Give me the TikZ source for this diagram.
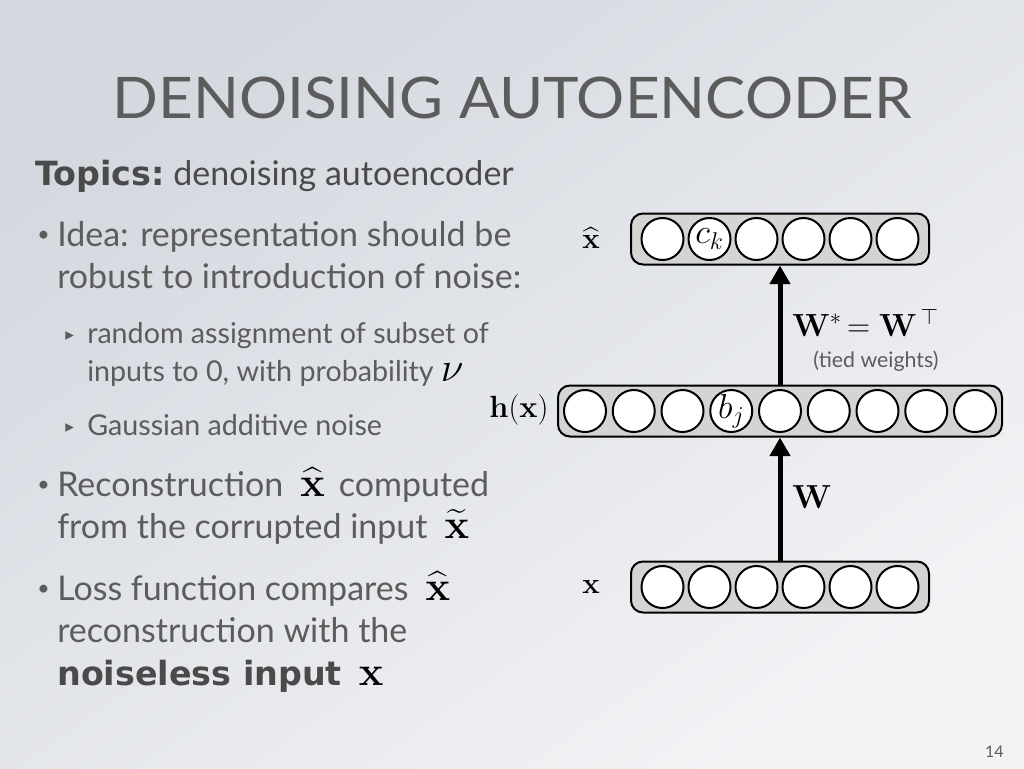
\documentclass[tikz,border=0pt]{standalone}
\usepackage{fix-cm}
\usepackage{amsmath}
\usepackage[no-math]{fontspec}
\setmainfont{Lato}
\newfontfamily\symfont{DejaVu Sans}
\newfontfamily\heavyfont{DejaVu Sans}[BoldFont={DejaVu Sans Bold}]
\usetikzlibrary{arrows.meta}

\definecolor{slidetext}{RGB}{92,92,92}
\definecolor{boldtext}{RGB}{74,74,74}
\definecolor{layergray}{RGB}{212,212,212}
\definecolor{bgdark}{RGB}{212,216,223}
\definecolor{bglight}{RGB}{242,243,245}

\newcommand\bigmath[1]{\hspace{0.25em}{\color{black}\fontsize{31}{31}\selectfont$#1$}\hspace{0.15em}}
\newcommand\heavy[1]{{\heavyfont\bfseries\fontsize{25}{29}\selectfont #1}}

\begin{document}
\begin{tikzpicture}[x=0.75pt,y=-0.75pt,
  layer/.style={draw=black, line width=1.5pt, fill=layergray, rounded corners=9pt,
                inner sep=0pt, minimum height=51*0.75pt},
  unit/.style={circle, draw=black, line width=1.5pt, fill=white, inner sep=0pt,
               minimum size=42*0.75pt},
  flow/.style={line width=3.75pt, -{Triangle[length=14pt,width=15pt]}},
  title/.style={inner sep=0pt, text=slidetext, font=\fontsize{43}{43}\selectfont},
  body/.style={anchor=base west, inner sep=0pt, text=slidetext,
               font=\fontsize{25.5}{30}\selectfont},
  sub/.style={anchor=base west, inner sep=0pt, text=slidetext,
              font=\fontsize{21.5}{26}\selectfont},
  bulletmark/.style={anchor=base west, inner sep=0pt, text=slidetext,
                     font=\fontsize{16}{18}\selectfont},
  submark/.style={anchor=base west, inner sep=0pt, text=slidetext,
                  font=\symfont\fontsize{13}{16}\selectfont},
  mathlabel/.style={inner sep=0pt, font=\fontsize{22}{26}\selectfont},
  unitlabel/.style={inner sep=0pt, font=\fontsize{26}{30}\selectfont},
]
% slide background
\shade[top color=bgdark, bottom color=bglight, shading angle=35]
  (0,0) rectangle (1024,768);
\useasboundingbox (0,0) rectangle (1024,768);

% heading
\node[title, anchor=base, xscale=1.05] (heading) at (512,118) {DENOISING AUTOENCODER};

% text column
\node[body, text=boldtext] (topics) at (35,185)
  {\heavy{Topics:}\ denoising autoencoder};

\node[bulletmark] (b1) at (37,241) {•};
\node[body] (l1) at (57,246) {Idea: representation should be};
\node[body] (l2) at (57,288) {robust to introduction of noise:};

\node[submark] (s1) at (65,340) {▸};
\node[sub] (l3) at (87,343) {random assignment of subset of};
\node[sub] (l4) at (87,381) {inputs to 0, with probability\bigmath{\nu}};
\node[submark] (s2) at (65,432) {▸};
\node[sub] (l5) at (87,435) {Gaussian additive noise};

\node[bulletmark] (b2) at (37,491) {•};
\node[body] (l6) at (57,496)
  {Reconstruction \bigmath{\widehat{\mathbf{x}}} computed};
\node[body] (l7) at (57,538)
  {from the corrupted input \bigmath{\widetilde{\mathbf{x}}}};

\node[bulletmark] (b3) at (37,595) {•};
\node[body] (l8) at (57,600)
  {Loss function compares \bigmath{\widehat{\mathbf{x}}}};
\node[body] (l9) at (57,642) {reconstruction with the};
\node[body, text=boldtext] (l10) at (57,685)
  {\heavy{noiseless input} \bigmath{\mathbf{x}}};

% network layers
\node[layer, minimum width=298*0.75pt] (recon) at (780,239) {};
\node[layer, minimum width=444*0.75pt] (hidden) at (780,411) {};
\node[layer, minimum width=298*0.75pt] (input) at (780,587) {};

\foreach \i in {1,...,6} {
  \node[unit] (r\i) at ({780+(\i-3.5)*47},239) {};
  \node[unit] (x\i) at ({780+(\i-3.5)*47},587) {};
}
\foreach \i in {1,...,9} {
  \node[unit] (h\i) at ({780+(\i-5)*48.75},411) {};
}
\node[unitlabel] (ck) at (r2) {$c_k$};
\node[unitlabel] (bj) at (h4) {$b_j$};

% layer labels
\node[mathlabel] (lxhat) at (591,238) {$\widehat{\mathbf{x}}$};
\node[mathlabel, font=\fontsize{23}{26}\selectfont] (lh) at (519,410)
  {$\mathbf{h}(\mathbf{x})$};
\node[mathlabel] (lx) at (591,587) {$\mathbf{x}$};

% weights
\draw[flow] (input.north) -- (hidden.south);
\draw[flow] (hidden.north) -- (recon.south);
\node[inner sep=0pt, font=\fontsize{25}{28}\selectfont] (w) at (812,497) {$\mathbf{W}$};
\node[inner sep=0pt, anchor=west, font=\fontsize{24}{28}\selectfont] (wt) at (792,323)
  {$\mathbf{W}^{*}\,{=}\;\mathbf{W}^{\,\top}$};
\node[inner sep=0pt, text=slidetext, font=\fontsize{16}{18}\selectfont] (tied) at (876,361)
  {(tied weights)};

% page number
\node[inner sep=0pt, anchor=base east, text=slidetext, font=\fontsize{12}{14}\selectfont]
  (page) at (1004,757) {14};
\end{tikzpicture}
\end{document}
